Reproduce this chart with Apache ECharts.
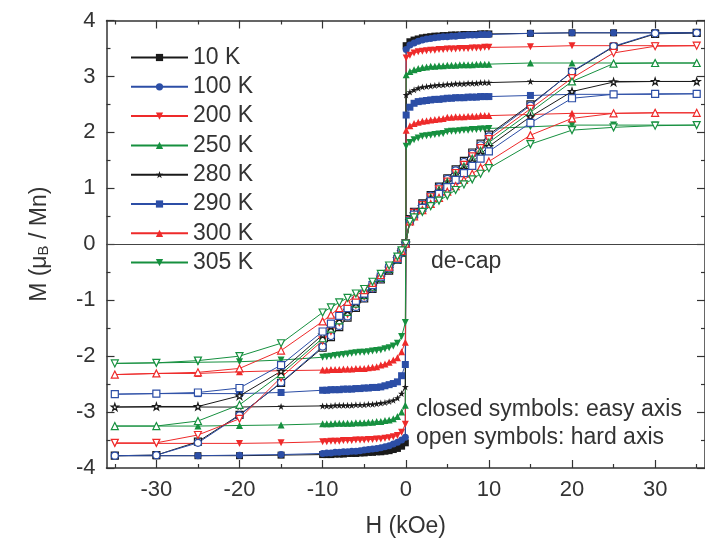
<!DOCTYPE html>
<html>
<head>
<meta charset="utf-8">
<script src="https://cdn.jsdelivr.net/npm/echarts@6/dist/echarts.min.js"></script>
<style>html,body{margin:0;padding:0;background:#fff}#c{width:705px;height:545px}</style>
</head>
<body>
<div id="c"></div>
<script>
// ---------------- DATA ----------------
const temps = ['10 K','100 K','200 K','250 K','280 K','290 K','300 K','305 K'];

// field grid of the easy-axis loops (kOe)
const H_EASY = [-35,-30,-25,-20,-15,-10,-9.5,-9,-8.5,-8,-7.5,-7,-6.5,-6,-5.5,-5,-4.5,-4,-3.5,-3,-2.5,-2,-1.5,-1,-0.5,-0.05,
  0.05,0.5,1,1.5,2,2.5,3,3.5,4,4.5,5,5.5,6,6.5,7,7.5,8,8.5,9,9.5,10,15,20,25,30,35];

// easy axis (closed symbols), M in muB/Mn
const easy10 = [-3.78,-3.78,-3.78,-3.78,-3.77,-3.76,-3.76,-3.76,-3.75,-3.75,-3.75,-3.74,-3.74,-3.74,-3.73,-3.73,-3.72,-3.72,-3.71,-3.71,-3.70,-3.69,-3.67,-3.65,-3.61,-3.55,
  3.55,3.62,3.65,3.67,3.69,3.70,3.71,3.72,3.72,3.73,3.73,3.74,3.74,3.74,3.75,3.75,3.75,3.75,3.76,3.76,3.76,3.77,3.78,3.78,3.78,3.78];
const easy100 = [-3.78,-3.78,-3.78,-3.77,-3.76,-3.74,-3.73,-3.73,-3.72,-3.72,-3.71,-3.71,-3.70,-3.70,-3.69,-3.68,-3.67,-3.66,-3.65,-3.64,-3.62,-3.60,-3.57,-3.54,-3.50,-3.45,
  3.48,3.56,3.60,3.63,3.65,3.67,3.68,3.69,3.70,3.71,3.71,3.72,3.72,3.73,3.73,3.74,3.74,3.74,3.75,3.75,3.75,3.77,3.78,3.78,3.78,3.78];
const easy200 = [-3.56,-3.56,-3.56,-3.56,-3.55,-3.53,-3.53,-3.52,-3.52,-3.52,-3.51,-3.51,-3.51,-3.50,-3.50,-3.50,-3.49,-3.49,-3.48,-3.48,-3.47,-3.46,-3.44,-3.42,-3.36,-3.22,
  3.33,3.38,3.42,3.44,3.45,3.46,3.47,3.47,3.48,3.48,3.49,3.49,3.49,3.50,3.50,3.50,3.51,3.51,3.51,3.52,3.52,3.53,3.55,3.55,3.55,3.55];
const easy250 = [-3.25,-3.25,-3.25,-3.24,-3.23,-3.21,-3.21,-3.21,-3.20,-3.20,-3.20,-3.20,-3.20,-3.19,-3.19,-3.19,-3.18,-3.18,-3.17,-3.17,-3.15,-3.14,-3.12,-3.08,-3.00,-2.88,
  3.03,3.09,3.12,3.14,3.16,3.17,3.18,3.18,3.19,3.19,3.20,3.20,3.20,3.21,3.21,3.21,3.21,3.22,3.22,3.22,3.22,3.24,3.24,3.24,3.24,3.24];
const easy280 = [-2.91,-2.91,-2.91,-2.91,-2.90,-2.89,-2.89,-2.89,-2.88,-2.88,-2.88,-2.88,-2.88,-2.87,-2.87,-2.87,-2.86,-2.86,-2.85,-2.84,-2.83,-2.81,-2.79,-2.75,-2.67,-2.55,
  2.67,2.72,2.76,2.79,2.81,2.82,2.83,2.84,2.85,2.85,2.86,2.86,2.87,2.87,2.87,2.88,2.88,2.88,2.89,2.89,2.89,2.91,2.91,2.91,2.91,2.91];
const easy290 = [-2.68,-2.67,-2.67,-2.67,-2.65,-2.61,-2.61,-2.60,-2.60,-2.60,-2.59,-2.59,-2.59,-2.58,-2.58,-2.57,-2.57,-2.56,-2.56,-2.55,-2.53,-2.51,-2.49,-2.46,-2.35,-2.15,
  2.31,2.45,2.52,2.55,2.56,2.57,2.58,2.59,2.59,2.60,2.61,2.61,2.62,2.62,2.62,2.63,2.63,2.63,2.64,2.64,2.64,2.66,2.68,2.68,2.68,2.69];
const easy300 = [-2.33,-2.31,-2.31,-2.28,-2.26,-2.25,-2.25,-2.24,-2.24,-2.24,-2.23,-2.23,-2.23,-2.22,-2.22,-2.22,-2.21,-2.20,-2.19,-2.16,-2.14,-2.11,-2.07,-2.03,-1.92,-1.75,
  2.04,2.12,2.16,2.18,2.20,2.21,2.22,2.23,2.24,2.25,2.27,2.27,2.28,2.28,2.28,2.29,2.29,2.29,2.30,2.30,2.30,2.32,2.34,2.34,2.35,2.35];
const easy305 = [-2.13,-2.12,-2.11,-2.10,-2.07,-2.02,-2.01,-2.00,-1.99,-1.98,-1.97,-1.96,-1.95,-1.94,-1.93,-1.93,-1.92,-1.91,-1.90,-1.89,-1.87,-1.85,-1.82,-1.77,-1.65,-1.40,
  1.75,1.82,1.87,1.90,1.93,1.94,1.95,1.96,1.97,1.98,2.01,2.02,2.02,2.03,2.04,2.04,2.05,2.05,2.06,2.06,2.07,2.10,2.13,2.13,2.13,2.13];

// field grid of the hard-axis loops (kOe)
const H_HARD = [-35,-30,-25,-20,-15,-10,-9,-8,-7,-6,-5,-4,-3,-2,-1,-0.5,0,0.5,1,2,3,4,5,6,7,8,9,10,15,20,25,30,35];

// hard axis (open symbols)
const hard10  = [-3.78,-3.77,-3.53,-3.05,-2.48,-1.85,-1.66,-1.48,-1.31,-1.14,-0.97,-0.80,-0.63,-0.47,-0.28,-0.15,0.02,0.45,0.58,0.73,0.88,1.03,1.18,1.34,1.49,1.64,1.80,1.96,2.50,3.08,3.53,3.76,3.78];
const hard100 = [-3.78,-3.77,-3.55,-3.06,-2.47,-1.83,-1.64,-1.46,-1.29,-1.12,-0.96,-0.79,-0.62,-0.46,-0.28,-0.15,0.02,0.44,0.57,0.72,0.87,1.02,1.17,1.32,1.47,1.62,1.77,1.93,2.48,3.09,3.54,3.77,3.78];
const hard200 = [-3.55,-3.55,-3.41,-3.12,-2.38,-1.72,-1.55,-1.39,-1.24,-1.08,-0.93,-0.77,-0.61,-0.45,-0.27,-0.14,0.02,0.43,0.56,0.70,0.84,0.98,1.12,1.27,1.42,1.57,1.72,1.88,2.42,2.97,3.42,3.54,3.55];
const hard250 = [-3.25,-3.25,-3.16,-2.87,-2.32,-1.68,-1.51,-1.36,-1.21,-1.06,-0.91,-0.76,-0.60,-0.44,-0.27,-0.14,0.02,0.43,0.55,0.69,0.83,0.97,1.11,1.25,1.39,1.53,1.67,1.82,2.36,2.91,3.23,3.24,3.24];
const hard280 = [-2.91,-2.90,-2.90,-2.71,-2.27,-1.62,-1.47,-1.32,-1.18,-1.04,-0.90,-0.75,-0.59,-0.43,-0.26,-0.13,0.02,0.42,0.54,0.67,0.80,0.93,1.07,1.20,1.34,1.47,1.61,1.75,2.28,2.73,2.90,2.91,2.91];
const hard290 = [-2.68,-2.67,-2.65,-2.57,-2.16,-1.56,-1.42,-1.28,-1.14,-1.01,-0.88,-0.73,-0.58,-0.42,-0.26,-0.13,0.01,0.42,0.53,0.65,0.77,0.90,1.02,1.15,1.27,1.40,1.53,1.66,2.17,2.61,2.68,2.69,2.69];
const hard300 = [-2.33,-2.31,-2.29,-2.22,-1.90,-1.38,-1.26,-1.14,-1.03,-0.92,-0.82,-0.69,-0.55,-0.40,-0.24,-0.12,0.01,0.41,0.50,0.61,0.72,0.83,0.94,1.04,1.15,1.26,1.37,1.48,1.95,2.25,2.34,2.35,2.35];
const hard305 = [-2.13,-2.12,-2.08,-2.00,-1.77,-1.22,-1.13,-1.04,-0.96,-0.88,-0.80,-0.67,-0.53,-0.38,-0.22,-0.11,0.01,0.40,0.48,0.58,0.68,0.78,0.87,0.97,1.07,1.16,1.26,1.36,1.79,2.04,2.09,2.12,2.13];

// axis ticks
const xLabelVals = [-30,-20,-10,0,10,20,30];
const xMinorVals = [-35,-25,-15,-5,5,15,25,35];

// ---------------- STYLE ----------------
const FONT = 'Liberation Sans, Arial, Helvetica, sans-serif';
const BLACK = '#1a1a1a', BLUE = '#2c4ea6', RED = '#ee2a2a', GREEN = '#16903f';
const DOWN = 'path://M0,0L10,0L5,9Z';
const STAR = 'path://M5,0L6.2,3.6L10,3.6L6.9,5.8L8.1,9.5L5,7.2L1.9,9.5L3.1,5.8L0,3.6L3.8,3.6Z';
const styles = [
  {c: BLACK, s: 'rect'},
  {c: BLUE, s: 'circle'},
  {c: RED, s: DOWN},
  {c: GREEN, s: 'triangle'},
  {c: BLACK, s: STAR},
  {c: BLUE, s: 'rect'},
  {c: RED, s: 'triangle'},
  {c: GREEN, s: DOWN}
];
const easyAll = [easy10, easy100, easy200, easy250, easy280, easy290, easy300, easy305];
const hardAll = [hard10, hard100, hard200, hard250, hard280, hard290, hard300, hard305];

const series = [];
temps.forEach((t, i) => {
  const st = styles[i];
  series.push({
    type: 'line', name: t, xAxisIndex: 0, yAxisIndex: 0,
    data: H_EASY.map((h, k) => [h, easyAll[i][k]]),
    symbol: st.s, symbolSize: 7,
    lineStyle: {color: st.c, width: 1},
    itemStyle: {color: st.c},
    emphasis: {disabled: true}, z: 2
  });
});
temps.forEach((t, i) => {
  const st = styles[i];
  series.push({
    type: 'line', name: t, xAxisIndex: 0, yAxisIndex: 0,
    data: H_HARD.map((h, k) => [h, hardAll[i][k]]),
    symbol: st.s, symbolSize: 7,
    lineStyle: {color: st.c, width: 1},
    itemStyle: {color: '#ffffff', borderColor: st.c, borderWidth: 1.2},
    emphasis: {disabled: true}, z: 3
  });
});
// zero line
series[0].markLine = {
  silent: true, symbol: 'none', label: {show: false},
  lineStyle: {color: '#444', width: 1, type: 'solid'},
  data: [{yAxis: 0}]
};

const axisLineStyle = {color: '#333', width: 1.5};
function xAx(pos, ticks, len, showLine, showLabel) {
  return {
    type: 'value', position: pos, min: -36, max: 36,
    axisLine: {show: showLine, onZero: false, lineStyle: axisLineStyle},
    axisTick: {show: true, inside: true, length: len, customValues: ticks, lineStyle: {color: '#333', width: 1.2}},
    axisLabel: {show: showLabel, customValues: xLabelVals, fontSize: 22, fontFamily: FONT, color: '#333', margin: 11},
    splitLine: {show: false}
  };
}
const xAxes = [
  Object.assign(xAx('bottom', xLabelVals, 8, true, true), {
    name: 'H (kOe)', nameLocation: 'middle', nameGap: 47,
    nameTextStyle: {fontSize: 23, fontFamily: FONT, color: '#333'}
  }),
  xAx('bottom', xMinorVals, 4, false, false),
  xAx('top', xLabelVals, 8, true, false),
  xAx('top', xMinorVals, 4, false, false)
];
function yAx(pos, showLabel) {
  return {
    type: 'value', position: pos, min: -4, max: 4, interval: 1,
    axisLine: {show: true, onZero: false, lineStyle: axisLineStyle},
    axisTick: {show: true, inside: true, length: 8, lineStyle: {color: '#333', width: 1.2}},
    minorTick: {show: true, splitNumber: 2, length: 4, lineStyle: {color: '#333', width: 1.2}},
    axisLabel: {show: showLabel, fontSize: 22, fontFamily: FONT, color: '#333', margin: 11},
    splitLine: {show: false}
  };
}
const yAxes = [
  Object.assign(yAx('left', true), {
    name: '{a|M (μ}{s|B}{a| / Mn)}', nameLocation: 'middle', nameGap: 55,
    nameTextStyle: {
      fontSize: 23, fontFamily: FONT, color: '#333',
      rich: {
        a: {fontSize: 23, fontFamily: FONT, color: '#333', verticalAlign: 'bottom', lineHeight: 30},
        s: {fontSize: 15, fontFamily: FONT, color: '#333', verticalAlign: 'bottom', lineHeight: 13}
      }
    }
  }),
  yAx('right', false)
];

const chart = echarts.init(document.getElementById('c'), null, {renderer: 'canvas'});
chart.setOption({
  backgroundColor: '#ffffff',
  animation: false,
  grid: {left: 106.5, top: 20.5, width: 600, height: 447.5, containLabel: false},
  xAxis: xAxes,
  yAxis: yAxes,
  legend: {
    data: temps, orient: 'vertical', left: 130, top: 44, padding: 0,
    itemWidth: 57, itemHeight: 9, itemGap: 2.3,
    textStyle: {fontSize: 23, fontFamily: FONT, color: '#333', lineHeight: 27},
    selectedMode: false
  },
  graphic: [
    {type: 'text', left: 431, top: 250, style: {text: 'de-cap', font: '23px ' + FONT, fill: '#333'}},
    {type: 'text', left: 416, top: 398, style: {text: 'closed symbols: easy axis', font: '23px ' + FONT, fill: '#333'}},
    {type: 'text', left: 416, top: 426, style: {text: 'open symbols: hard axis', font: '23px ' + FONT, fill: '#333'}}
  ],
  series: series
});
</script>
</body>
</html>
